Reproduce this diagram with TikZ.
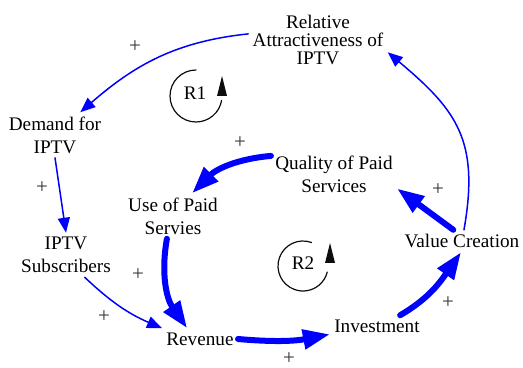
\documentclass[tikz,border=0pt]{standalone}
\usepackage{fontspec}
\setmainfont{Liberation Serif}
\usepackage{tikz}
\usetikzlibrary{arrows.meta}
\definecolor{qqqqff}{rgb}{0,0,1}
\definecolor{uququq}{rgb}{0.2,0.2,0.2}
\definecolor{qqqqqq}{rgb}{0.05,0.05,0.05}
\tikzset{
  var/.style={align=center,inner sep=2pt,font=\fontsize{9.6}{11.5}\selectfont},
  sgn/.style={color=uququq,inner sep=0pt,font=\fontsize{10.5}{11}\selectfont},
  thinarr/.style={color=qqqqff,line width=0.75pt,-{Triangle[length=7.5pt,width=6pt]}},
  thickarr/.style={color=qqqqff,line width=3pt,-{Triangle[length=13.5pt,width=9.5pt]}},
  loopline/.style={color=qqqqqq,line width=0.6pt}
}
\begin{document}
\begin{tikzpicture}[line cap=round,line join=round,x=0.5pt,y=0.5pt]
\useasboundingbox (0,0) rectangle (523,368);

\node[var,font=\fontsize{9.6}{9}\selectfont] (rel) at (318,328) {Relative\\Attractiveness of\\IPTV};
\node[var] (dem) at (55,233) {Demand for\\IPTV};
\node[var] (sub) at (66,113) {IPTV\\Subscribers};
\node[var] (use) at (173,152) {Use of Paid\\Servies};
\node[var] (rev) at (200,29) {Revenue};
\node[var] (inv) at (377,42) {Investment};
\node[var] (val) at (462,127) {Value Creation};
\node[var] (qua) at (334,194) {Quality of Paid\\Services};

\draw[thinarr] (rel.175) to[out=186,in=41] (dem.42);
\draw[thinarr] (dem.south) -- (sub.north);
\draw[thinarr] (sub.-50) to[bend right=10] (rev.north west);
\draw[thickarr] (use.-105) to[out=-100,in=125] (rev.140);
\draw[thickarr] (rev.east) to[bend right=8] (inv.190);
\draw[thickarr] (inv.25) to[out=30,in=-125] (val.-95);
\draw[thickarr] (val.128) -- (qua.-13);
\draw[thickarr] (qua.164) to[out=185,in=45] (use.50);
\draw[thinarr] (val.80) to[out=80,in=-40,looseness=1.2] (rel.-10);

% loop markers
\node[var] (R1) at (195,275) {R1};
\coordinate (c1) at (196,272);
\draw[loopline] (c1) ++(90:26) arc[start angle=90,end angle=350,radius=26];
\fill[color=qqqqqq] (c1) ++(21,0) -- ++(10,0) -- ++(-5,20) -- cycle;
\node[var] (R2) at (303,105) {R2};
\coordinate (c2) at (303,102);
\draw[loopline] (c2) ++(70:25) arc[start angle=70,end angle=346,radius=25];
\fill[color=qqqqqq] (c2) ++(22,3) -- ++(10,0) -- ++(-5,20) -- cycle;

\node[sgn] (s1) at (135,321) {+};
\node[sgn] (s2) at (42,180) {+};
\node[sgn] (s3) at (104,51) {+};
\node[sgn] (s4) at (138,93) {+};
\node[sgn] (s5) at (289,9) {+};
\node[sgn] (s6) at (448,65) {+};
\node[sgn] (s7) at (438,178) {+};
\node[sgn] (s8) at (240,225) {+};
\end{tikzpicture}
\end{document}
